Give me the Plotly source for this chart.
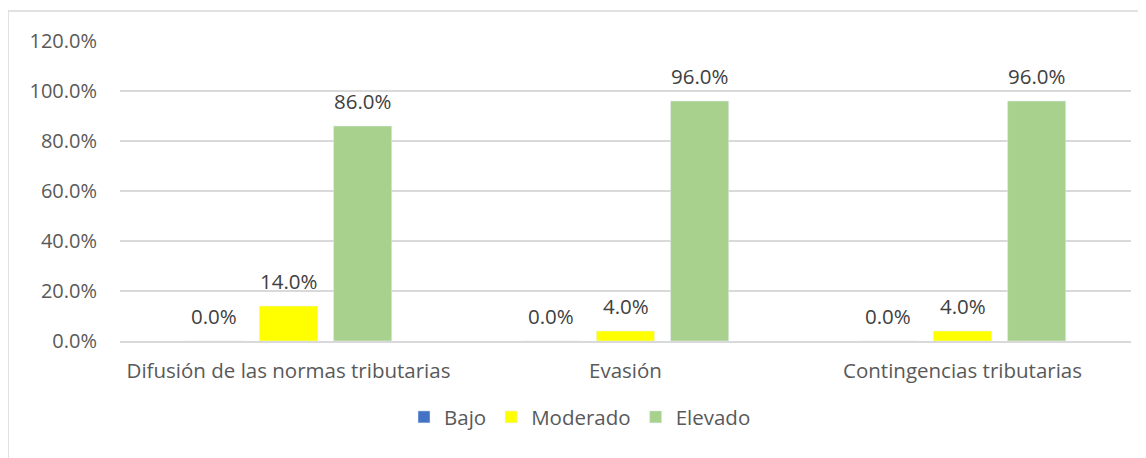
import plotly.graph_objects as go

categories = ["Difusión de las normas tributarias", "Evasión", "Contingencias tributarias"]
bajo = [0.0, 0.0, 0.0]
moderado = [14.0, 4.0, 4.0]
elevado = [86.0, 96.0, 96.0]
series_names = ["Bajo", "Moderado", "Elevado"]
colors = ["#4472C4", "#FFFF00", "#A9D18E"]
y_ticks = [0, 20, 40, 60, 80, 100, 120]

FONT = "Open Sans"
FS = 20.5
BARGAP = 0.34
GROUPGAP = 0.216

fig = go.Figure()
series = [bajo, moderado, elevado]
for name, vals, col in zip(series_names, series, colors):
    fig.add_trace(go.Bar(
        x=categories, y=vals, name=name, marker_color=col,
    ))

# data labels above bars (positions derived from data + group slot)
slot = (1 - BARGAP) / len(series)
annotations = []
for k, vals in enumerate(series):
    off = (k - (len(series) - 1) / 2) * slot
    for i, v in enumerate(vals):
        annotations.append(dict(
            x=i + off, y=v, xref="x", yref="y", text=f"{v:.1f}%",
            showarrow=False, yanchor="bottom", yshift=9,
            font=dict(family=FONT, size=FS, color="#404040"),
        ))

fig.update_layout(
    width=1146, height=458,
    margin=dict(l=112, r=23, t=33, b=125),
    paper_bgcolor="white", plot_bgcolor="white",
    barmode="group", bargap=BARGAP, bargroupgap=GROUPGAP,
    font=dict(family=FONT, size=FS, color="#595959"),
    showlegend=True,
    legend=dict(orientation="h", x=0.455, xanchor="center", y=-0.187, yanchor="top",
                font=dict(family=FONT, size=FS, color="#595959"),
                traceorder="normal", itemwidth=30),
    yaxis=dict(range=[0, 120], tickvals=y_ticks, ticktext=[f"{v:.1f}%" for v in y_ticks],
               showgrid=True, gridcolor="#D9D9D9", gridwidth=1.5, zeroline=False,
               showline=False, ticklabelstandoff=22,
               tickfont=dict(family=FONT, size=20, color="#595959")),
    xaxis=dict(showline=True, linecolor="#D9D9D9", linewidth=1.5, ticklabelstandoff=11,
               tickfont=dict(family=FONT, size=FS, color="#595959")),
    annotations=annotations,
    shapes=[dict(type="rect", xref="paper", yref="paper",
                 x0=(0 - 112) / 1011, x1=(1160 - 112) / 1011,
                 y0=(333 - 470) / 300, y1=1 + 30 / 300,
                 line=dict(color="#D9D9D9", width=1.5), fillcolor="rgba(0,0,0,0)", layer="below")],
)

fig.write_html("out.html")
